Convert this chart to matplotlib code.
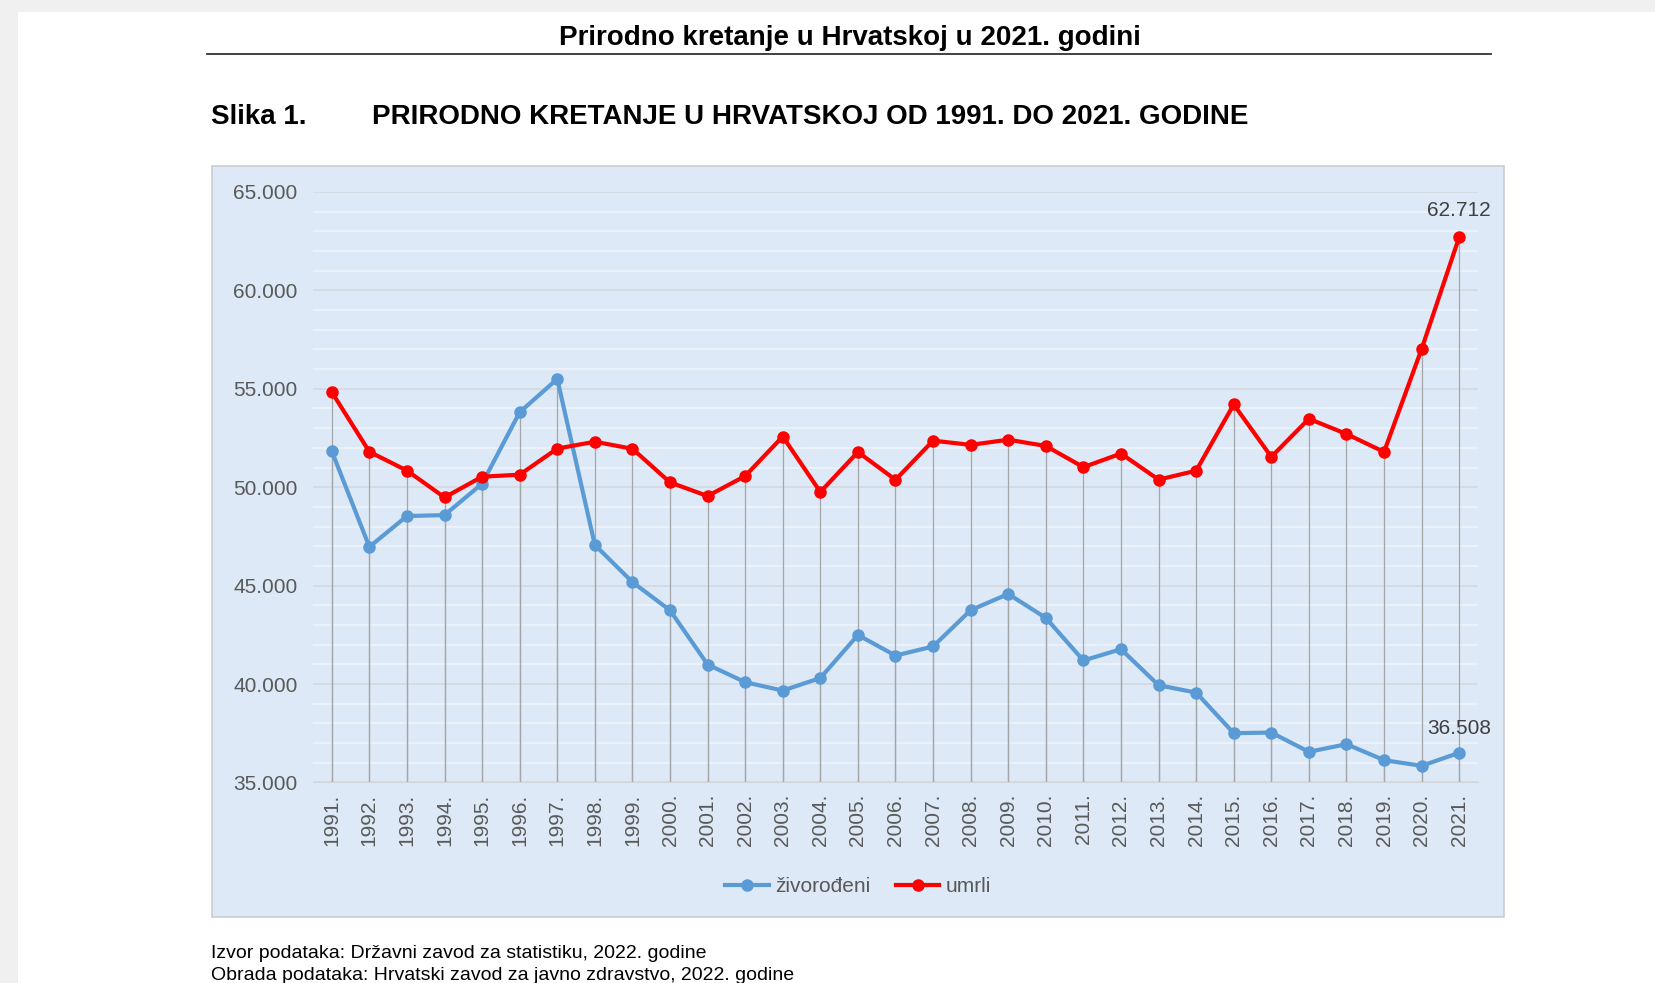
import matplotlib.pyplot as plt
from matplotlib.patches import Rectangle
from matplotlib.ticker import MultipleLocator, FuncFormatter

plt.rcParams['font.family'] = ['Liberation Sans', 'DejaVu Sans']

# years on the x axis
years = list(range(1991, 2022))
year_labels = [str(y) + '.' for y in years]

# live births (zivorodeni)
zivorodeni = [51829, 46970, 48535, 48584, 50182, 53811, 55501, 47068, 45179, 43746,
              40993, 40094, 39668, 40307, 42492, 41446, 41910, 43753, 44577, 43361,
              41197, 41771, 39939, 39566, 37503, 37537, 36556, 36945, 36135, 35845,
              36508]

# deaths (umrli)
umrli = [54832, 51800, 50846, 49482, 50536, 50636, 51964, 52311, 51953, 50246,
         49552, 50569, 52575, 49756, 51790, 50378, 52367, 52151, 52414, 52096,
         51019, 51710, 50386, 50839, 54205, 51542, 53477, 52706, 51794, 57023,
         62712]

series_names = ['živorođeni', 'umrli']
series_colors = ['#5b9bd5', '#ff0000']

fig = plt.figure(figsize=(16.56, 9.83), dpi=100)
fig.patch.set_facecolor('#f0f0f0')

# white page and the light blue chart panel
fig.patches.append(Rectangle((18 / 1656, 0), 1, 1 - 12 / 983, transform=fig.transFigure,
                             facecolor='white', edgecolor='none', zorder=-2))
fig.patches.append(Rectangle((212 / 1656, 0.0671), (1504 - 212) / 1656, 0.764,
                             transform=fig.transFigure, facecolor='#dde9f6',
                             edgecolor='#c9cdd2', linewidth=1.2, zorder=-1))

# page headings
fig.text(850 / 1656, 1 - 38 / 983, 'Prirodno kretanje u Hrvatskoj u 2021. godini',
         ha='center', va='center', fontsize=20, fontweight='bold')
fig.add_artist(plt.Line2D([207 / 1656, 1491 / 1656], [1 - 54 / 983, 1 - 54 / 983],
                          transform=fig.transFigure, color='#333333', linewidth=1.3))
fig.text(211 / 1656, 1 - 117 / 983, 'Slika 1.', ha='left', va='center',
         fontsize=20, fontweight='bold')
fig.text(372 / 1656, 1 - 117 / 983, 'PRIRODNO KRETANJE U HRVATSKOJ OD 1991. DO 2021. GODINE',
         ha='left', va='center', fontsize=20, fontweight='bold')

ax = fig.add_axes([313 / 1656, 0.204, 0.7035, 0.6007])
ax.set_facecolor('none')
ax.set_zorder(2)

x = list(range(len(years)))

# drop lines from every point to the bottom
ax.vlines(x, 35000, zivorodeni, color='#a6a6a6', linewidth=0.9, zorder=2)
ax.vlines(x, 35000, umrli, color='#a6a6a6', linewidth=0.9, zorder=2)

ax.plot(x, zivorodeni, color=series_colors[0], linewidth=3, marker='o',
        markersize=8, label=series_names[0], zorder=3)
ax.plot(x, umrli, color=series_colors[1], linewidth=3, marker='o',
        markersize=8, label=series_names[1], zorder=3)

# value labels for the last year
ax.annotate(f'{umrli[-1]:,}'.replace(',', '.'), (x[-1], umrli[-1]), xytext=(0, 12),
            textcoords='offset points', ha='center', va='bottom', fontsize=15, color='#404040')
ax.annotate(f'{zivorodeni[-1]:,}'.replace(',', '.'), (x[-1], zivorodeni[-1]), xytext=(0, 11),
            textcoords='offset points', ha='center', va='bottom', fontsize=15, color='#404040')

ax.set_xlim(-0.5, 30.5)
ax.set_ylim(35000, 65000)

ax.yaxis.set_major_locator(MultipleLocator(5000))
ax.yaxis.set_minor_locator(MultipleLocator(1000))
ax.yaxis.set_major_formatter(FuncFormatter(lambda v, p: f'{int(v):,}'.replace(',', '.')))
ax.grid(axis='y', which='major', color='#d3d7dc', linewidth=1.1)
ax.grid(axis='y', which='minor', color='#eef4fa', linewidth=1.1)
ax.set_axisbelow(True)

ax.set_xticks(x)
ax.set_xticklabels(year_labels, rotation=90)
ax.tick_params(axis='both', which='both', length=0, labelsize=15, labelcolor='#595959')
ax.tick_params(axis='x', pad=8)
ax.tick_params(axis='y', pad=11)

for side in ['top', 'right', 'left']:
    ax.spines[side].set_visible(False)
ax.spines['bottom'].set_color('#d3d7dc')

leg = ax.legend(loc='center', bbox_to_anchor=(0.468, -0.176), ncol=2, frameon=False,
                fontsize=15, handlelength=2.1, handletextpad=0.3, columnspacing=1.2)
for t in leg.get_texts():
    t.set_color('#595959')

# source notes
fig.text(211 / 1656, 1 - 953 / 983, 'Izvor podataka: Državni zavod za statistiku, 2022. godine',
         ha='left', va='center', fontsize=14)
fig.text(211 / 1656, 1 - 975 / 983, 'Obrada podataka: Hrvatski zavod za javno zdravstvo, 2022. godine',
         ha='left', va='center', fontsize=14)

plt.savefig('out.png', dpi=100)
